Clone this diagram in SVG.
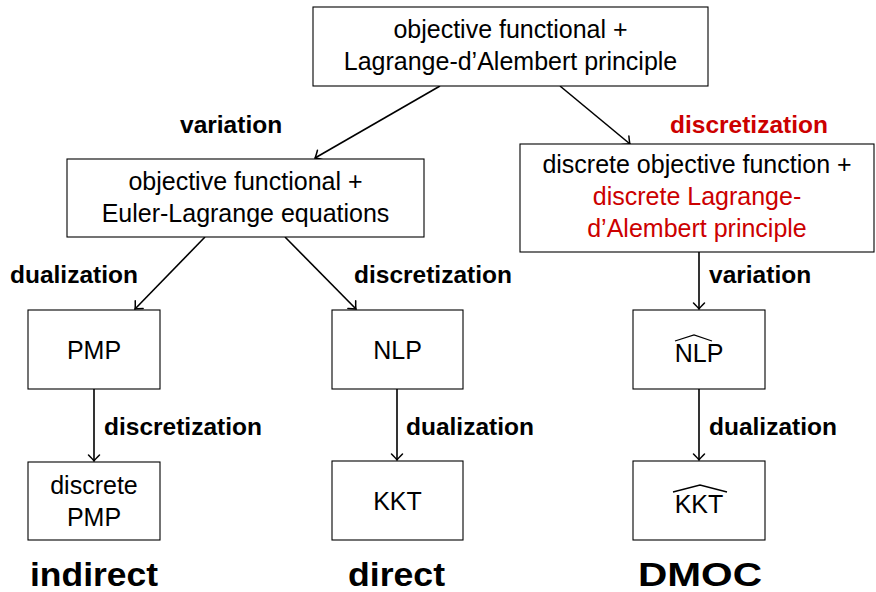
<svg xmlns="http://www.w3.org/2000/svg" width="876" height="592" viewBox="0 0 876 592">
  <defs>
    <marker id="tip" markerUnits="userSpaceOnUse" markerWidth="14" markerHeight="14" viewBox="-8 -7 10 14" refX="0" refY="0" orient="auto">
      <path d="M -6 -5.5 Q -1.8 -1.2 0 0 Q -1.8 1.2 -6 5.5" fill="none" stroke="#000" stroke-width="1.5" stroke-linecap="round"/>
    </marker>
    <style>
      .box { fill: #fff; stroke: #000; stroke-width: 1.1; }
      .t { font-family: "Liberation Sans", Arial, sans-serif; font-size: 25px; fill: #000; text-anchor: middle; }
      .lbl { font-family: "Liberation Sans", Arial, sans-serif; font-size: 24.5px; font-weight: bold; fill: #000; }
      .big { font-family: "Liberation Sans", Arial, sans-serif; font-size: 34px; font-weight: bold; fill: #000; }
      .red { fill: #cc0000; }
      .edge { stroke: #000; stroke-width: 1.6; fill: none; marker-end: url(#tip); }
      .hat { stroke: #000; stroke-width: 1.3; fill: none; }
    </style>
  </defs>

  <!-- connectors -->
  <g id="connectors">
    <line class="edge" x1="440" y1="86" x2="315" y2="158"/>
    <line class="edge" x1="560" y1="86" x2="630" y2="144"/>
    <line class="edge" x1="205" y1="237" x2="135" y2="309"/>
    <line class="edge" x1="285" y1="237" x2="356" y2="309"/>
    <line class="edge" x1="699" y1="252" x2="699" y2="309"/>
    <line class="edge" x1="94" y1="389" x2="94" y2="461"/>
    <line class="edge" x1="397" y1="389" x2="397" y2="460"/>
    <line class="edge" x1="699" y1="389" x2="699" y2="460"/>
  </g>

  <!-- edge labels -->
  <g id="edge-labels">
    <text class="lbl" x="180" y="133">variation</text>
    <text class="lbl red" x="670" y="133">discretization</text>
    <text class="lbl" x="10" y="283">dualization</text>
    <text class="lbl" x="354" y="283">discretization</text>
    <text class="lbl" x="709" y="283">variation</text>
    <text class="lbl" x="104" y="435">discretization</text>
    <text class="lbl" x="406" y="435">dualization</text>
    <text class="lbl" x="709" y="435">dualization</text>
  </g>

  <g id="n-top">
    <rect class="box" x="313" y="7" width="395" height="79"/>
    <text class="t" x="510.5" y="38">objective functional +</text>
    <text class="t" x="510.5" y="70">Lagrange-d’Alembert principle</text>
  </g>

  <g id="n-euler">
    <rect class="box" x="67" y="159" width="357" height="78"/>
    <text class="t" x="245.5" y="190">objective functional +</text>
    <text class="t" x="245.5" y="222">Euler-Lagrange equations</text>
  </g>

  <g id="n-discrete">
    <rect class="box" x="520" y="144" width="354" height="108"/>
    <text class="t" x="697" y="173">discrete objective function +</text>
    <text class="t red" x="697" y="205">discrete Lagrange-</text>
    <text class="t red" x="697" y="237">d’Alembert principle</text>
  </g>

  <g id="n-pmp">
    <rect class="box" x="28" y="310" width="132" height="79"/>
    <text class="t" x="94" y="359">PMP</text>
  </g>

  <g id="n-nlp">
    <rect class="box" x="332" y="310" width="131" height="79"/>
    <text class="t" x="397.5" y="359">NLP</text>
  </g>

  <g id="n-nlphat">
    <rect class="box" x="633" y="310" width="132" height="79"/>
    <path class="hat" d="M 675 341 L 694 335 L 712 341"/>
    <text class="t" x="699" y="362">NLP</text>
  </g>

  <g id="n-dpmp">
    <rect class="box" x="28" y="462" width="132" height="78"/>
    <text class="t" x="94" y="494">discrete</text>
    <text class="t" x="94" y="526">PMP</text>
  </g>

  <g id="n-kkt">
    <rect class="box" x="332" y="461" width="131" height="79"/>
    <text class="t" x="397.5" y="510">KKT</text>
  </g>

  <g id="n-kkthat">
    <rect class="box" x="633" y="461" width="132" height="79"/>
    <path class="hat" d="M 673 492 L 700 485 L 727 492"/>
    <text class="t" x="699" y="513">KKT</text>
  </g>

  <!-- approach names -->
  <g id="approaches">
    <text class="big" x="30" y="586" textLength="128" lengthAdjust="spacingAndGlyphs">indirect</text>
    <text class="big" x="348" y="586" textLength="97" lengthAdjust="spacingAndGlyphs">direct</text>
    <text class="big" x="638" y="586" textLength="124" lengthAdjust="spacingAndGlyphs">DMOC</text>
  </g>
</svg>
